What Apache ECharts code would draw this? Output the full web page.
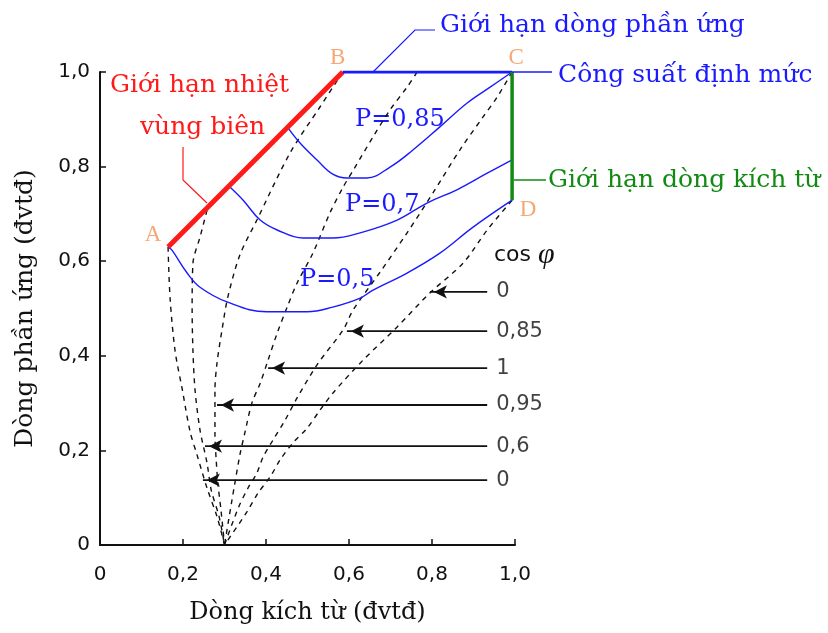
<!DOCTYPE html>
<html>
<head>
<meta charset="utf-8">
<script src="https://cdn.jsdelivr.net/npm/echarts@6/dist/echarts.min.js"></script>
<style>
  html, body { margin: 0; padding: 0; background: #fff; }
  #chart { width: 828px; height: 633px; }
</style>
</head>
<body>
<div id="chart"></div>
<script>
// ranh giới vùng làm việc A-B-C-D
const pointNames = ['A', 'B', 'C', 'D'];
const pointXY = [[0.164, 0.63], [0.585, 1.0], [0.993, 1.0], [0.993, 0.729]];

// đường công suất P
const curveP085 = [[0.453, 0.882], [0.482, 0.850], [0.523, 0.814], [0.561, 0.784], [0.595, 0.776], [0.643, 0.776],
  [0.699, 0.799], [0.754, 0.835], [0.819, 0.884], [0.884, 0.934], [0.940, 0.968], [0.993, 1.0]];
const curveP07 = [[0.313, 0.757], [0.345, 0.729], [0.386, 0.687], [0.427, 0.666], [0.489, 0.649], [0.561, 0.649],
  [0.627, 0.660], [0.716, 0.687], [0.788, 0.723], [0.860, 0.751], [0.933, 0.786], [0.993, 0.814]];
const curveP05 = [[0.164, 0.63], [0.173, 0.624], [0.210, 0.575], [0.241, 0.545], [0.306, 0.514], [0.402, 0.493],
  [0.499, 0.493], [0.561, 0.503], [0.627, 0.522], [0.658, 0.539], [0.740, 0.575], [0.819, 0.617], [0.899, 0.672], [0.993, 0.729]];

// đường cos φ (nét đứt)
const cosLead0 = [[0.164, 0.63], [0.169, 0.52], [0.181, 0.41], [0.198, 0.33], [0.217, 0.24], [0.234, 0.19],
  [0.258, 0.12], [0.282, 0.06], [0.30, 0]];
const cos06 = [[0.258, 0.708], [0.241, 0.651], [0.224, 0.596], [0.222, 0.50], [0.224, 0.41], [0.229, 0.328],
  [0.241, 0.243], [0.258, 0.173], [0.268, 0.116], [0.287, 0.060], [0.30, 0]];
const cos095 = [[0.585, 1.0], [0.530, 0.926], [0.458, 0.829], [0.378, 0.687], [0.337, 0.613], [0.308, 0.524],
  [0.294, 0.455], [0.282, 0.385], [0.277, 0.328], [0.277, 0.233], [0.280, 0.180], [0.284, 0.131], [0.292, 0.070], [0.30, 0]];
const cos1 = [[0.764, 1.0], [0.740, 0.968], [0.699, 0.920], [0.658, 0.863], [0.612, 0.795], [0.586, 0.757],
  [0.554, 0.702], [0.513, 0.617], [0.475, 0.554], [0.451, 0.503], [0.427, 0.448], [0.405, 0.391], [0.386, 0.342],
  [0.366, 0.300], [0.349, 0.237], [0.337, 0.190], [0.318, 0.095], [0.30, 0]];
const cos085 = [[0.993, 1.0], [0.957, 0.947], [0.923, 0.905], [0.867, 0.835], [0.802, 0.744], [0.740, 0.660],
  [0.675, 0.577], [0.610, 0.497], [0.586, 0.455], [0.523, 0.381], [0.475, 0.311], [0.446, 0.264], [0.417, 0.222],
  [0.393, 0.186], [0.378, 0.152], [0.357, 0.121], [0.333, 0.078], [0.30, 0]];
const cosLag0 = [[0.993, 0.729], [0.933, 0.666], [0.875, 0.596], [0.795, 0.533], [0.716, 0.461], [0.634, 0.391],
  [0.561, 0.321], [0.530, 0.285], [0.499, 0.247], [0.465, 0.216], [0.434, 0.180], [0.410, 0.144], [0.381, 0.110],
  [0.354, 0.070], [0.30, 0]];

// mũi tên chỉ các đường cos φ
const arrowLabels = ['0', '0,85', '1', '0,95', '0,6', '0'];
const arrowY = [0.535, 0.452, 0.374, 0.296, 0.209, 0.137];
const arrowTipX = [0.795, 0.595, 0.405, 0.282, 0.253, 0.248];
const arrowTailX = 0.933;

const RED = '#ff1a1a', BLUE = '#1a1aff', GREEN = '#138a13', ORANGE = '#f39250';
const SERIF = '"DejaVu Serif", serif';
const TIMES = '"Liberation Serif", serif';
const SANS = '"DejaVu Sans", sans-serif';

function fmt(v) {
  return v === 0 ? '0' : v.toFixed(1).replace('.', ',');
}

function dashed(data) {
  return {
    type: 'line', data: data, smooth: 0.3, symbol: 'none', silent: true, z: 2,
    lineStyle: { color: '#111', width: 1.4, type: [5, 5] }
  };
}
function pCurve(data) {
  return {
    type: 'line', data: data, smooth: 0.4, symbol: 'none', silent: true, z: 3,
    lineStyle: { color: BLUE, width: 1.4 }
  };
}
function bound(data, color, w) {
  return {
    type: 'line', data: data, symbol: 'none', silent: true, z: 5,
    lineStyle: { color: color, width: w }
  };
}
function arrow(i) {
  return {
    type: 'line', silent: true, z: 4,
    lineStyle: { color: '#111', width: 1.8 },
    data: [
      { value: [arrowTailX, arrowY[i]], symbol: 'none' },
      { value: [arrowTipX[i], arrowY[i]], symbol: 'arrow', symbolSize: [10, 13], symbolRotate: 90, symbolOffset: [4, 0] }
    ],
    itemStyle: { color: '#111' }
  };
}

const labelOffsets = [[-15, -12], [-5, -14], [4, -14], [16, 10]];

let myChart = echarts.init(document.getElementById('chart'));
myChart.setOption({
  backgroundColor: '#fff',
  animation: false,
  grid: { left: 100, right: 313, top: 72, bottom: 88 },
  xAxis: {
    type: 'value', min: 0, max: 1, interval: 0.2,
    name: 'Dòng kích từ (đvtđ)', nameLocation: 'middle', nameGap: 56,
    nameTextStyle: { fontFamily: SERIF, fontSize: 24, color: '#111' },
    axisLine: { lineStyle: { color: '#111', width: 2 } },
    axisTick: { inside: true, length: 6, lineStyle: { color: '#111', width: 1.5 } },
    axisLabel: { formatter: fmt, fontFamily: SANS, fontSize: 20, color: '#111', margin: 20 },
    splitLine: { show: false }
  },
  yAxis: {
    type: 'value', min: 0, max: 1, interval: 0.2,
    name: 'Dòng phần ứng (đvtđ)', nameLocation: 'middle', nameGap: 62,
    nameTextStyle: { fontFamily: SERIF, fontSize: 25, color: '#111' },
    axisLine: { lineStyle: { color: '#111', width: 2 } },
    axisTick: { inside: true, length: 6, lineStyle: { color: '#111', width: 1.5 } },
    axisLabel: { formatter: fmt, fontFamily: SANS, fontSize: 20, color: '#111', margin: 10 },
    splitLine: { show: false }
  },
  series: [
    dashed(cosLead0), dashed(cos06), dashed(cos095), dashed(cos1), dashed(cos085), dashed(cosLag0),
    pCurve(curveP085), pCurve(curveP07), pCurve(curveP05),
    bound([pointXY[0], pointXY[1]], RED, 5),
    bound([pointXY[1], pointXY[2]], BLUE, 3),
    bound([pointXY[2], pointXY[3]], GREEN, 3.5),
    {
      type: 'scatter', symbolSize: 0, silent: true, z: 6,
      data: pointXY.map((p, i) => ({
        value: p,
        label: {
          show: true, formatter: pointNames[i], position: 'inside',
          offset: labelOffsets[i], color: ORANGE, fontFamily: TIMES, fontSize: 23
        }
      }))
    },
    {
      type: 'scatter', symbolSize: 0, silent: true, z: 6,
      data: arrowY.map(y => [arrowTailX, y]),
      label: {
        show: true, position: 'right', distance: 9,
        formatter: p => arrowLabels[p.dataIndex],
        fontFamily: SANS, fontSize: 21, color: '#111'
      }
    }
  ].concat(arrowY.map((y, i) => arrow(i))),
  graphic: [
    { type: 'polyline', shape: { points: [[183, 147], [183, 180], [207, 203]] }, style: { stroke: RED, lineWidth: 1.2, fill: null }, z: 10 },
    { type: 'polyline', shape: { points: [[373, 72], [415, 30], [435, 30]] }, style: { stroke: BLUE, lineWidth: 1.2, fill: null }, z: 10 },
    { type: 'polyline', shape: { points: [[512, 72], [552, 72]] }, style: { stroke: BLUE, lineWidth: 1.5, fill: null }, z: 10 },
    { type: 'polyline', shape: { points: [[514, 180], [546, 180]] }, style: { stroke: GREEN, lineWidth: 1.5, fill: null }, z: 10 },
    { type: 'text', x: 110, y: 85, style: { text: 'Giới hạn nhiệt', fill: RED, font: '25px ' + SERIF, textVerticalAlign: 'middle' } },
    { type: 'text', x: 140, y: 127, style: { text: 'vùng biên', fill: RED, font: '25px ' + SERIF, textVerticalAlign: 'middle' } },
    { type: 'text', x: 440, y: 25, style: { text: 'Giới hạn dòng phần ứng', fill: BLUE, font: '25px ' + SERIF, textVerticalAlign: 'middle' } },
    { type: 'text', x: 558, y: 75, style: { text: 'Công suất định mức', fill: BLUE, font: '25px ' + SERIF, textVerticalAlign: 'middle' } },
    { type: 'text', x: 548, y: 180, style: { text: 'Giới hạn dòng kích từ', fill: GREEN, font: '25px ' + SERIF, textVerticalAlign: 'middle' } },
    { type: 'text', x: 355, y: 120, style: { text: 'P=0,85', fill: BLUE, font: '24px ' + SERIF, textVerticalAlign: 'middle' } },
    { type: 'text', x: 345, y: 205, style: { text: 'P=0,7', fill: BLUE, font: '24px ' + SERIF, textVerticalAlign: 'middle' } },
    { type: 'text', x: 300, y: 280, style: { text: 'P=0,5', fill: BLUE, font: '24px ' + SERIF, textVerticalAlign: 'middle' } },
    {
      type: 'text', x: 494, y: 255,
      style: {
        text: 'cos {p|φ}', fill: '#111', font: '22px ' + SANS, textVerticalAlign: 'middle',
        rich: { p: { fontFamily: TIMES, fontStyle: 'italic', fontSize: 30, fill: '#111' } }
      }
    }
  ]
});
window.addEventListener('resize', function () {
  myChart.resize();
});
</script>
</body>
</html>
